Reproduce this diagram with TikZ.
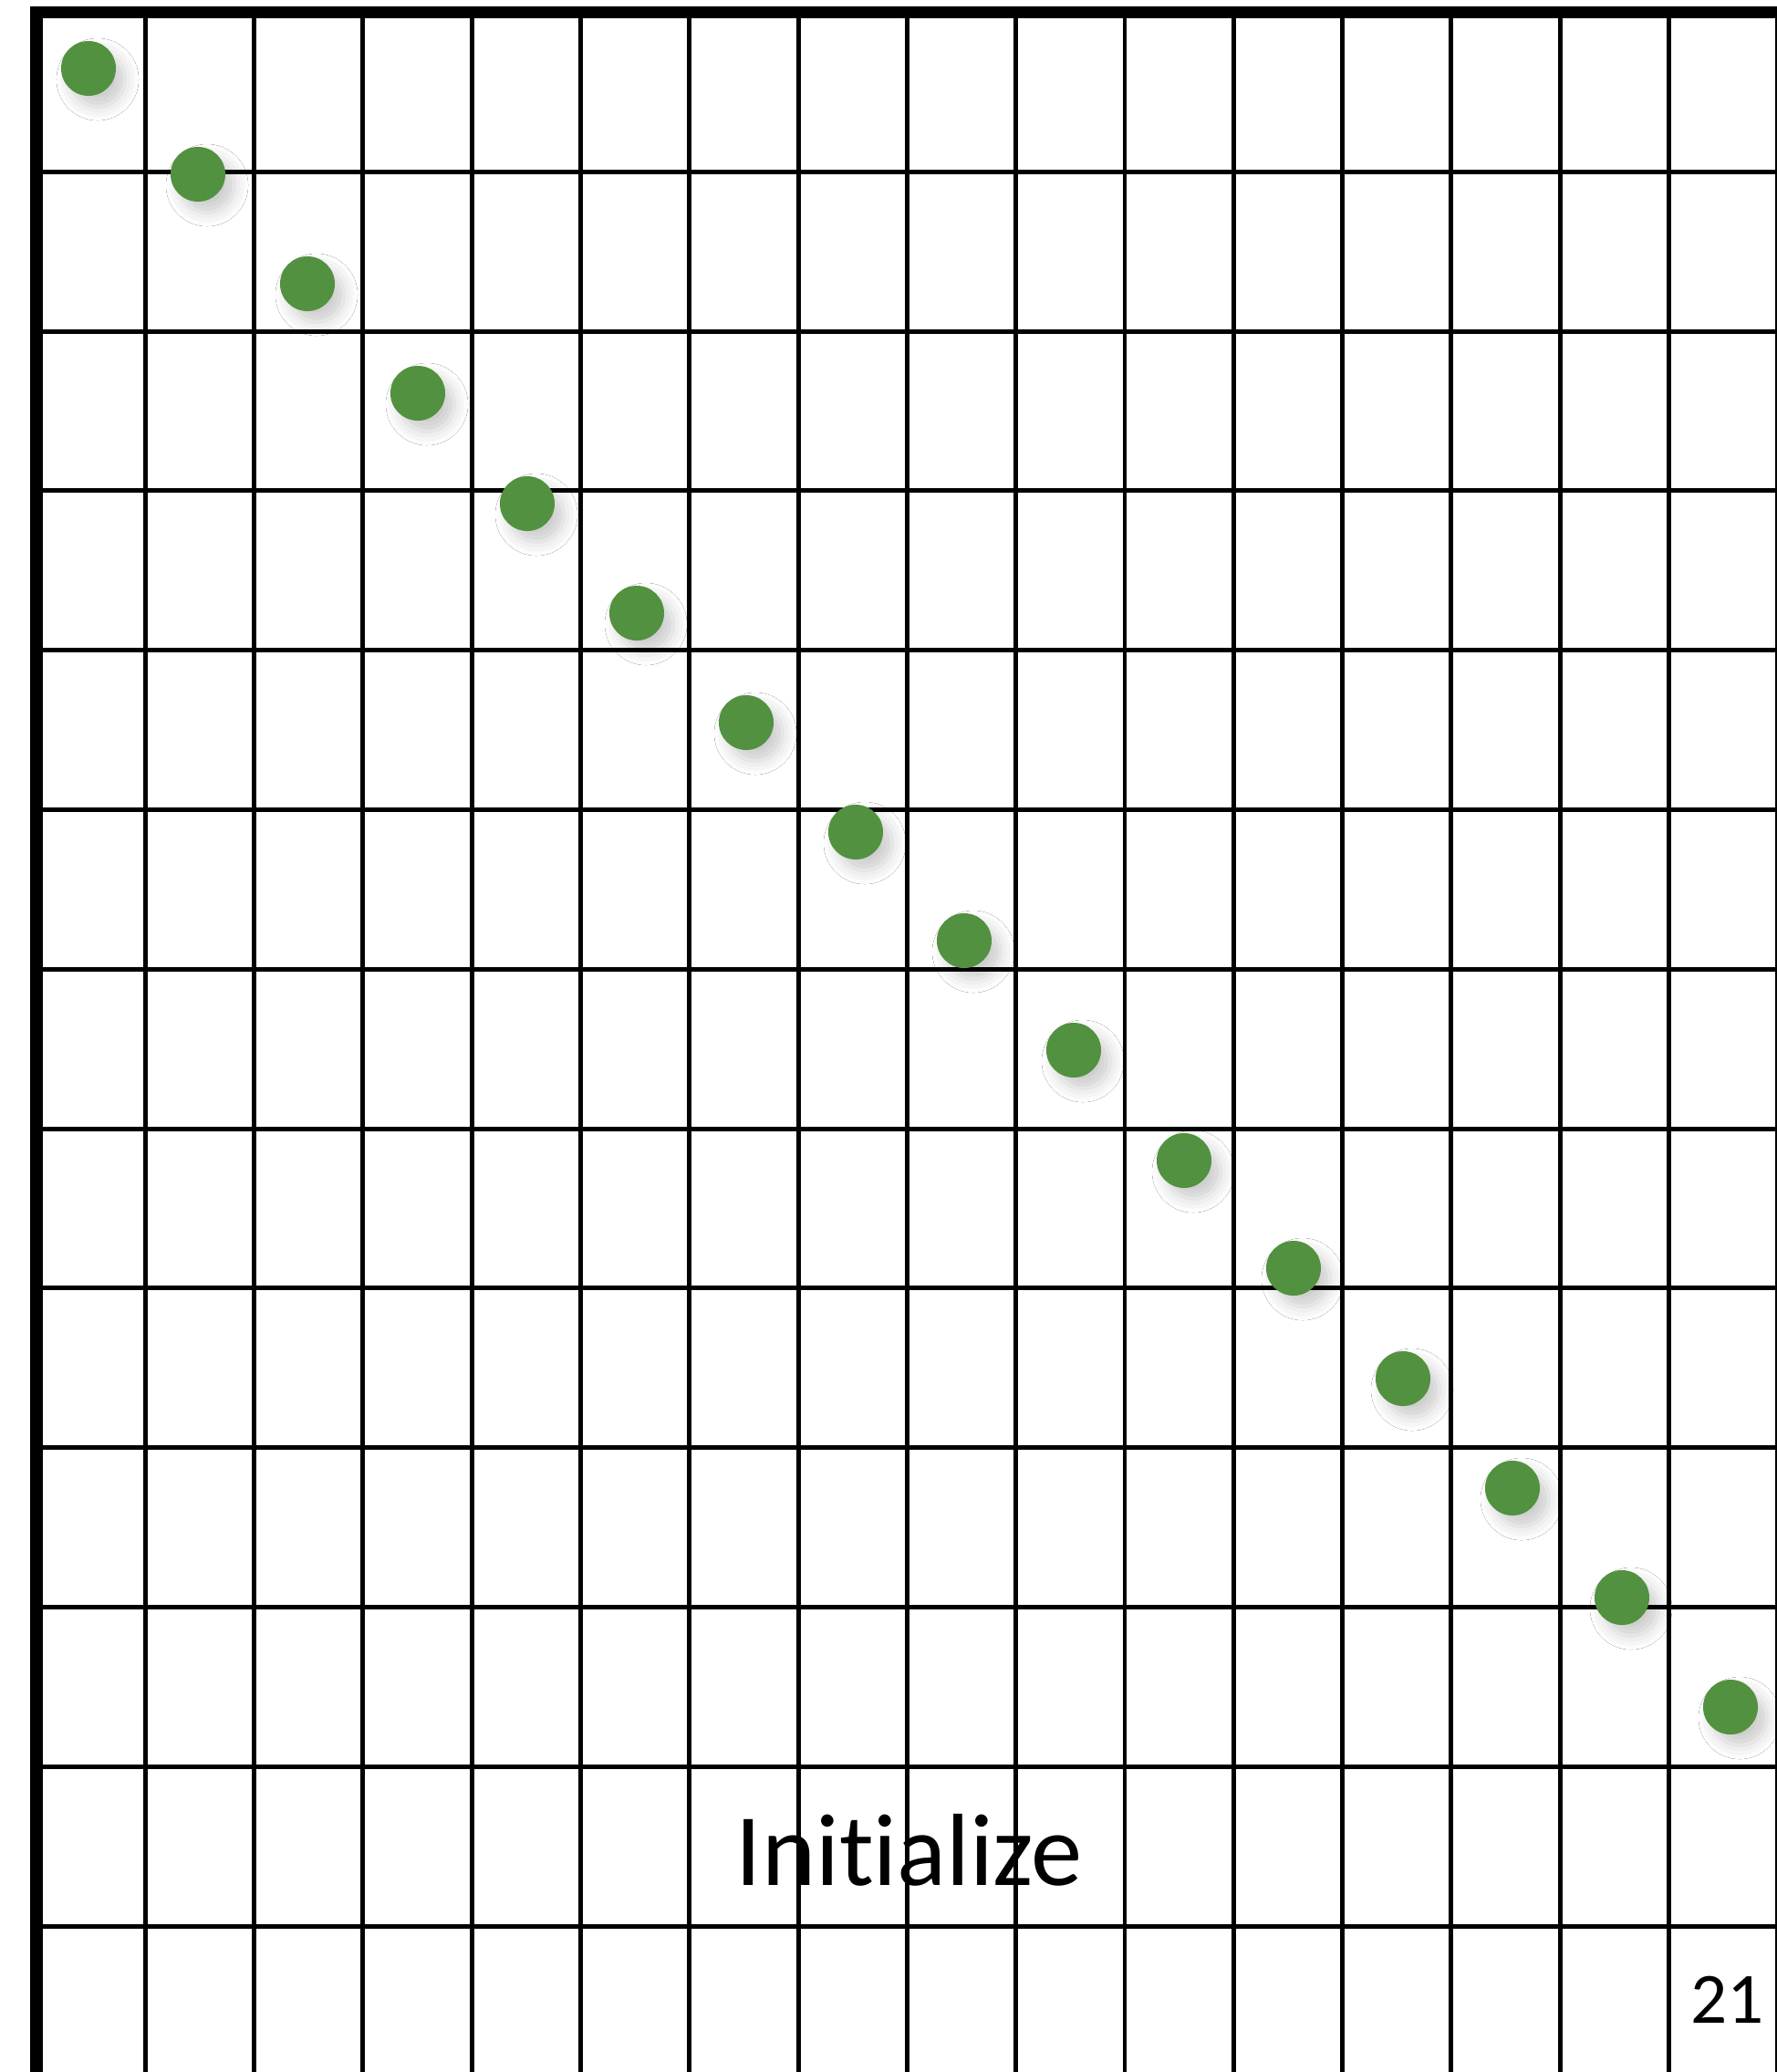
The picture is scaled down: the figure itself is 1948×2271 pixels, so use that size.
\documentclass[tikz,border=0pt]{standalone}
\usepackage{fontspec}
\setmainfont[Ligatures=NoCommon]{Carlito}
\usepackage{tikz}
\usetikzlibrary{shadows.blur}
\definecolor{dotgreen}{RGB}{82,145,64}

\begin{document}
\begin{tikzpicture}[x=0.01cm,y=-0.01cm,
  gridline/.style={line width=1.4pt},
  frameline/.style={line width=3.7pt,line join=miter},
  dot/.style={circle,fill=dotgreen,inner sep=0pt,minimum size=0.6cm,
              blur shadow={shadow xshift=0.1cm,shadow yshift=-0.12cm,
                           shadow blur radius=0.15cm,shadow opacity=20}},
  lbl/.style={inner sep=0pt,text=black}
]
\useasboundingbox (0,0) rectangle (1948,2271);
\fill[white] (0,0) rectangle (1948,2271);
% grid
\foreach \k in {1,...,16}
  \draw[gridline] ({40+119.3*\k},13.5) -- ({40+119.3*\k},2280);
\foreach \j in {1,...,12}
  \draw[gridline] (40,{13.5+174.8*\j}) -- (1960,{13.5+174.8*\j});
\draw[frameline] (40,2280) -- (40,13.5) -- (1960,13.5);
% diagonal of points
\node[dot] (d1)  at (97,75)     {};
\node[dot] (d2)  at (217,191)   {};
\node[dot] (d3)  at (337,311)   {};
\node[dot] (d4)  at (458,431)   {};
\node[dot] (d5)  at (578,552)   {};
\node[dot] (d6)  at (698,672)   {};
\node[dot] (d7)  at (818,792)   {};
\node[dot] (d8)  at (938,912)   {};
\node[dot] (d9)  at (1057,1031) {};
\node[dot] (d10) at (1177,1151) {};
\node[dot] (d11) at (1298,1272) {};
\node[dot] (d12) at (1418,1390) {};
\node[dot] (d13) at (1538,1511) {};
\node[dot] (d14) at (1658,1631) {};
\node[dot] (d15) at (1778,1751) {};
\node[dot] (d16) at (1897,1871) {};
% labels
\node[lbl,anchor=base,font=\fontsize{32}{38}\selectfont] (title) at (997,2066) {Initialize};
\node[lbl,anchor=base east,font=\fontsize{22.5}{27}\selectfont] (page) at (1934,2217) {21};
\end{tikzpicture}
\end{document}
